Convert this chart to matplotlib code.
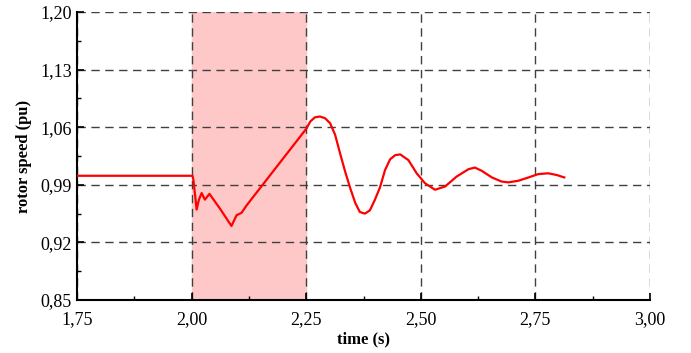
import matplotlib.pyplot as plt
import numpy as np
from matplotlib.ticker import FuncFormatter, AutoMinorLocator

plt.rcParams['font.family'] = ['Liberation Serif', 'DejaVu Serif']

# rotor speed trace
t = [1.750, 2.002, 2.004, 2.011, 2.016, 2.022, 2.029, 2.039, 2.062, 2.087,
     2.098, 2.109, 2.120, 2.250, 2.259, 2.269, 2.280, 2.291, 2.302, 2.313,
     2.324, 2.335, 2.346, 2.357, 2.367, 2.378, 2.389, 2.400, 2.411, 2.422,
     2.433, 2.444, 2.455, 2.473, 2.491, 2.509, 2.531, 2.553, 2.578, 2.604,
     2.618, 2.633, 2.655, 2.676, 2.691, 2.713, 2.735, 2.756, 2.778, 2.796,
     2.813]
w = [1.001, 1.001, 0.996, 0.960, 0.972, 0.980, 0.972, 0.979, 0.961, 0.940,
     0.953, 0.956, 0.965, 1.058, 1.067, 1.072, 1.073, 1.071, 1.065, 1.051,
     1.028, 1.006, 0.986, 0.968, 0.957, 0.955, 0.959, 0.972, 0.987, 1.008,
     1.021, 1.026, 1.027, 1.020, 1.004, 0.992, 0.984, 0.988, 1.000, 1.009,
     1.011, 1.007, 0.999, 0.994, 0.993, 0.995, 0.999, 1.003, 1.004, 1.002,
     0.999]

fault_start, fault_end = 2.00, 2.25
xticks = [1.75, 2.00, 2.25, 2.50, 2.75, 3.00]
yticks = [0.85, 0.92, 0.99, 1.06, 1.13, 1.20]

fig = plt.figure(figsize=(6.91, 3.53), dpi=100)
ax = fig.add_axes([0.1114, 0.150, 0.8293, 0.816])

ax.axvspan(fault_start, fault_end, color='#ffc8c8', zorder=0)
ax.plot(t, w, color='red', linewidth=1.6, zorder=3)

ax.set_xlim(1.75, 3.00)
ax.set_ylim(0.85, 1.20)
ax.set_xticks(xticks)
ax.set_yticks(yticks)
fmt = FuncFormatter(lambda v, p: f'{v:.2f}'.replace('.', ','))
ax.xaxis.set_major_formatter(fmt)
ax.yaxis.set_major_formatter(fmt)
ax.xaxis.set_minor_locator(AutoMinorLocator(2))
ax.yaxis.set_minor_locator(AutoMinorLocator(2))

ax.grid(True, which='major', color='0.25', linestyle=(0, (6, 4)), linewidth=1.0)
ax.set_axisbelow(True)
for s in ['top', 'right']:
    ax.spines[s].set_visible(False)
for s in ['left', 'bottom']:
    ax.spines[s].set_linewidth(1.5)

ax.tick_params(which='major', direction='in', length=5, width=1.2, labelsize=13)
ax.tick_params(which='minor', direction='in', length=3, width=1.0)
ax.tick_params(axis='x', which='major', pad=8)

ax.set_xlabel('time (s)', fontsize=12, fontweight='bold', labelpad=2)
ax.set_ylabel('rotor speed (pu)', fontsize=12, fontweight='bold', labelpad=6)

fig.savefig('out.png', dpi=100)
